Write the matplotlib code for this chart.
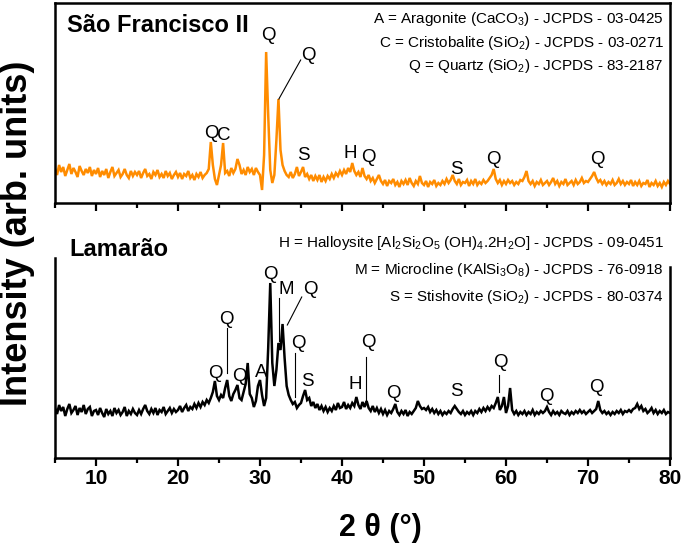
import numpy as np
import matplotlib
matplotlib.use("Agg")
import matplotlib.pyplot as plt
from matplotlib.ticker import MultipleLocator

plt.rcParams['font.family'] = ['Liberation Sans', 'DejaVu Sans']
plt.rcParams['mathtext.fontset'] = 'custom'
plt.rcParams['mathtext.rm'] = 'Liberation Sans'
plt.rcParams['mathtext.it'] = 'Liberation Sans:italic'
plt.rcParams['mathtext.bf'] = 'Liberation Sans:bold'

# ---------------- data (2theta grid 5..80, step 0.25) ----------------
two_theta_start = 5.0
two_theta_step = 0.25

sao_francisco = [
    36, 30, 40, 33, 38, 29, 35, 41, 31, 37, 33, 28, 39, 34, 30, 36, 32, 38, 29, 35,
    31, 37, 28, 34, 30, 36, 27, 33, 38, 29, 32, 35, 28, 31, 36, 30, 27, 34, 29, 33,
    30, 34, 27, 32, 36, 29, 31, 26, 33, 30, 35, 28, 31, 27, 34, 29, 32, 26, 30, 33,
    28, 32, 26, 31, 29, 34, 27, 30, 25, 31, 28, 33, 27, 30, 32, 36, 63, 40, 26, 20,
    30, 40, 62, 32, 34, 29, 37, 32, 36, 46, 40, 31, 35, 30, 38, 33, 36, 30, 37, 33,
    30, 15, 50, 153, 90, 35, 22, 30, 65, 106, 55, 40, 34, 30, 28, 33, 27, 31, 38, 29,
    33, 38, 28, 31, 26, 30, 24, 29, 25, 30, 23, 28, 24, 29, 26, 31, 27, 32, 29, 34,
    30, 35, 31, 37, 33, 42, 34, 30, 33, 28, 37, 29, 26, 30, 24, 27, 22, 26, 30, 24,
    21, 25, 19, 24, 22, 26, 20, 23, 18, 24, 21, 25, 20, 27, 22, 19, 24, 21, 29, 22,
    20, 24, 18, 23, 21, 25, 19, 22, 20, 24, 21, 26, 22, 25, 30, 24, 21, 26, 20, 23,
    22, 25, 19, 24, 21, 26, 20, 23, 21, 25, 22, 24, 27, 30, 36, 26, 22, 25, 20, 24,
    21, 25, 22, 24, 20, 23, 21, 25, 24, 28, 34, 24, 21, 24, 19, 23, 21, 25, 20, 22,
    24, 20, 23, 27, 21, 24, 19, 23, 21, 26, 20, 22, 24, 20, 25, 21, 23, 27, 22, 24,
    23, 26, 29, 33, 27, 23, 25, 21, 24, 20, 23, 21, 25, 20, 22, 26, 21, 24, 20, 23,
    21, 25, 19, 23, 20, 24, 19, 22, 21, 25, 18, 22, 20, 24, 19, 22, 18, 23, 20, 24, 21,
]

lamarao = [
    50, 44, 53, 47, 51, 42, 49, 54, 45, 48, 52, 43, 50, 46, 53, 44, 49, 51, 42, 47,
    48, 43, 50, 45, 41, 49, 44, 47, 42, 50, 45, 48, 43, 46, 51, 42, 47, 44, 49, 45,
    43, 48, 44, 49, 53, 47, 44, 49, 45, 50, 43, 48, 46, 51, 44, 47, 50, 45, 49, 46,
    48, 52, 46, 50, 53, 47, 51, 49, 54, 50, 55, 51, 56, 53, 58, 55, 60, 66, 77, 62,
    58, 63, 60, 70, 78, 62, 57, 64, 68, 73, 60, 58, 66, 74, 95, 64, 60, 51, 57, 72,
    78, 63, 52, 60, 110, 175, 95, 72, 88, 115, 108, 134, 100, 72, 63, 58, 54, 56, 50, 53,
    55, 62, 68, 58, 60, 52, 56, 50, 54, 48, 52, 47, 51, 46, 50, 47, 52, 48, 55, 50,
    51, 56, 49, 53, 50, 55, 52, 61, 53, 49, 56, 51, 57, 50, 47, 52, 46, 50, 45, 49,
    44, 48, 43, 47, 45, 49, 54, 46, 43, 47, 44, 48, 42, 46, 44, 47, 50, 57, 52, 49,
    50, 48, 51, 46, 49, 45, 48, 44, 47, 43, 46, 44, 47, 45, 49, 52, 49, 46, 44, 47,
    43, 46, 44, 47, 43, 47, 45, 49, 46, 50, 47, 51, 48, 52, 50, 55, 61, 48, 52, 61,
    45, 52, 70, 48, 44, 47, 43, 46, 44, 47, 43, 46, 44, 48, 43, 46, 44, 47, 45, 47,
    51, 46, 43, 47, 44, 46, 43, 47, 45, 44, 47, 43, 46, 44, 47, 45, 48, 45, 47, 44,
    46, 48, 45, 47, 49, 57, 48, 45, 47, 44, 46, 43, 46, 44, 47, 45, 48, 44, 47, 46,
    48, 46, 49, 50, 54, 49, 52, 47, 49, 45, 47, 50, 45, 48, 44, 47, 45, 48, 44, 46, 45,
]

x_ticks = [10, 20, 30, 40, 50, 60, 70, 80]

# peak labels: (label, 2theta, intensity)
top_labels = [("Q", 30.98, 170), ("Q", 35.85, 150), ("Q", 24.02, 72), ("C", 25.61, 69),
              ("S", 35.24, 50), ("H", 41.06, 52), ("Q", 43.17, 47), ("S", 53.9, 36),
              ("Q", 58.41, 45), ("Q", 71.1, 46)]
top_lines = [((34.96, 145), (32.3, 106))]

bot_labels = [("Q", 31.3, 183), ("M", 33.17, 168), ("Q", 36.18, 168), ("Q", 25.94, 138),
              ("Q", 24.51, 84), ("Q", 27.44, 81), ("A", 30.09, 85), ("Q", 34.67, 114),
              ("S", 35.77, 76), ("H", 41.59, 73), ("Q", 43.21, 115), ("Q", 46.26, 64),
              ("S", 53.9, 66), ("Q", 59.27, 95), ("Q", 64.96, 61), ("Q", 71.06, 70)]
bot_lines = [((32.3, 160), (32.3, 117)), ((35.09, 161), (33.33, 133)),
             ((25.94, 130), (25.94, 85)), ((34.27, 105), (34.27, 61)),
             ((42.93, 101), (42.93, 55)), ((59.2, 83), (59.2, 66))]

top_legend = [r"A = Aragonite (CaCO$_\mathrm{3}$) - JCPDS - 03-0425",
              r"C = Cristobalite (SiO$_\mathrm{2}$) - JCPDS - 03-0271",
              r"Q = Quartz (SiO$_\mathrm{2}$) - JCPDS - 83-2187"]
bot_legend = [r"H = Halloysite [Al$_\mathrm{2}$Si$_\mathrm{2}$O$_\mathrm{5}$ (OH)$_\mathrm{4}$.2H$_\mathrm{2}$O] - JCPDS - 09-0451",
              r"M = Microcline (KAlSi$_\mathrm{3}$O$_\mathrm{8}$) - JCPDS - 76-0918",
              r"S = Stishovite (SiO$_\mathrm{2}$) - JCPDS - 80-0374"]

# ---------------- figure ----------------
W, H = 685, 543
fig = plt.figure(figsize=(W / 100, H / 100), dpi=100)

def fx(px):
    return px / W

def fy(py):
    return 1 - py / H

left, right = 55, 670
ax1 = fig.add_axes([fx(left), fy(203), fx(right - left), (203 - 3) / H])
ax2 = fig.add_axes([fx(left), fy(458), fx(right - left), (458 - 212) / H])

x1 = two_theta_start + two_theta_step * np.arange(len(sao_francisco))
x2 = two_theta_start + two_theta_step * np.arange(len(lamarao))

ax1.plot(x1, sao_francisco, color='#ff8c00', lw=1.8, solid_joinstyle='miter')
ax2.plot(x2, lamarao, color='black', lw=1.8, solid_joinstyle='miter')

ax1.set_ylim(2, 202)
ax2.set_ylim(0, 246)

for ax in (ax1, ax2):
    ax.set_xlim(5, 80)
    ax.set_yticks([])
    ax.xaxis.set_major_locator(MultipleLocator(10))
    ax.xaxis.set_minor_locator(MultipleLocator(5))
    ax.tick_params(axis='x', which='major', direction='out', length=6, width=1.6)
    ax.tick_params(axis='x', which='minor', direction='out', length=3.5, width=1.6)
    for s in ax.spines.values():
        s.set_linewidth(1.8)

ax1.tick_params(axis='x', labelbottom=False)
ax2.spines['top'].set_visible(False)
ax2.spines['left'].set_bounds(0, 200)
ax2.spines['right'].set_bounds(0, 191)
ax2.set_xticks(x_ticks)
ax2.set_xticklabels([str(t) for t in x_ticks], fontweight='bold', fontsize=15)
ax2.tick_params(axis='x', which='major', pad=2)

for lab, xx, yy in top_labels:
    ax1.text(xx, yy, lab, ha='center', va='center', fontsize=13.5)
for (a, b) in top_lines:
    ax1.plot([a[0], b[0]], [a[1], b[1]], color='black', lw=0.8)
for lab, xx, yy in bot_labels:
    ax2.text(xx, yy, lab, ha='center', va='center', fontsize=13.5)
for (a, b) in bot_lines:
    ax2.plot([a[0], b[0]], [a[1], b[1]], color='black', lw=0.8)

fig.text(fx(67), fy(25), "São Francisco II", fontweight='bold',
         fontsize=17, ha='left', va='center')
fig.text(fx(69), fy(250), "Lamarão", fontweight='bold',
         fontsize=17, ha='left', va='center')

for txt, py in zip(top_legend, [23, 47, 70]):
    fig.text(fx(664), fy(py), txt, fontsize=11, ha='right', va='baseline')
for txt, py in zip(bot_legend, [247, 274, 301]):
    fig.text(fx(664), fy(py), txt, fontsize=11, ha='right', va='baseline')

fig.text(fx(18), fy(406), "Intensity (arb. units)", fontweight='bold',
         fontsize=26, rotation=90, ha='center', va='bottom')
fig.text(fx(380), fy(528), "2 θ (°)", fontweight='bold',
         fontsize=22, ha='center', va='center')

fig.savefig("out.png", dpi=100)
